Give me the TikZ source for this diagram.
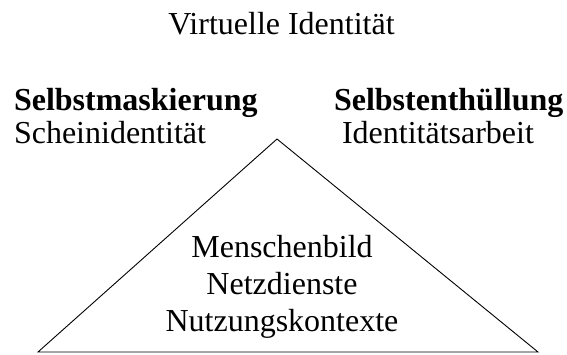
\documentclass[tikz,border=0pt]{standalone}
\usepackage{fontspec}
\setmainfont{Liberation Serif}
\begin{document}
\begin{tikzpicture}[x=1pt,y=-1pt,
  lbl/.style={inner sep=0pt,outer sep=0pt,font=\fontsize{32}{36.8}\selectfont},
  boldlbl/.style={lbl,font=\fontsize{32}{36.8}\selectfont\bfseries},
  tri/.style={draw=black,line width=0.9pt,line join=miter}]
\useasboundingbox (0,0) rectangle (567,354);
\node[lbl,anchor=base] (title) at (281.5,34) {Virtuelle Identität};
\node[boldlbl,anchor=base west] (mask) at (14,110) {Selbstmaskierung};
\node[lbl,anchor=base west] (schein) at (14,143) {Scheinidentität};
\node[boldlbl,anchor=base west] (enth) at (334,110) {Selbstenthüllung};
\node[lbl,anchor=base west] (arbeit) at (342,143) {Identitätsarbeit};
\coordinate (apex) at (277,139);
\coordinate (bl) at (38,352);
\coordinate (br) at (538,352);
\draw[tri] (bl) -- (apex) -- (br) -- cycle;
\node[lbl,anchor=base] (mensch) at (282,257) {Menschenbild};
\node[lbl,anchor=base] (netz) at (282,294) {Netzdienste};
\node[lbl,anchor=base] (nutz) at (282,331) {Nutzungskontexte};
\end{tikzpicture}
\end{document}
